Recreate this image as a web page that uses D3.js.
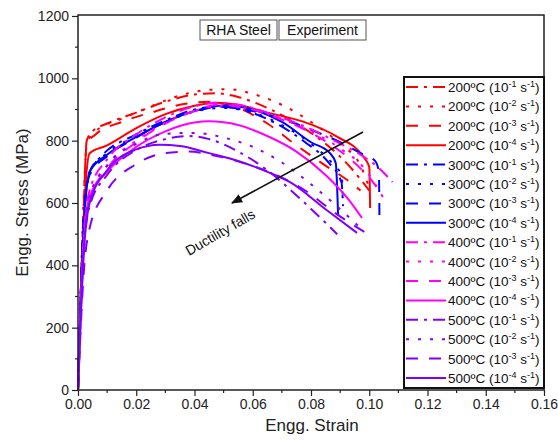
<!DOCTYPE html>
<html>
<head>
<meta charset="utf-8">
<script src="https://cdn.jsdelivr.net/npm/d3@7.9.0/dist/d3.min.js"></script>
<style>
  body { margin: 0; background: #fff; }
  svg { font-family: Arial, "Liberation Sans", sans-serif; }
</style>
</head>
<body>
<svg id="chart" width="558" height="441"></svg>
<script>
// temperatures and strain rates, one curve per pair
const temps = ["200", "300", "400", "500"];
const rates = ["1", "2", "3", "4"];
const tempColors = ["#ff0000", "#0000ff", "#ff00ff", "#8000ff"];
const rateDash = ["12,6,3,6", "3,9", "12,11", null];

const xTicks = [0, 0.02, 0.04, 0.06, 0.08, 0.10, 0.12, 0.14, 0.16];
const yTicks = [0, 200, 400, 600, 800, 1000, 1200];

// [strain, stress]
const red1 = [[0,0],[0.002,600],[0.003,800],[0.005,830],[0.01,855],[0.02,890],[0.03,925],[0.04,948],[0.047,952],[0.055,940],[0.065,905],[0.075,855],[0.085,790],[0.093,720],[0.1,640]];
const red2 = [[0,0],[0.002,620],[0.003,790],[0.006,830],[0.015,870],[0.025,910],[0.035,945],[0.045,963],[0.052,965],[0.06,950],[0.07,915],[0.08,860],[0.09,790],[0.097,720],[0.1,650]];
const red3 = [[0,0],[0.002,600],[0.003,790],[0.006,820],[0.015,860],[0.025,890],[0.035,915],[0.045,925],[0.055,905],[0.065,855],[0.075,785],[0.085,720],[0.093,670],[0.097,640]];
const red4 = [[0,0],[0.002,560],[0.004,760],[0.01,785],[0.02,840],[0.03,885],[0.04,912],[0.047,922],[0.055,915],[0.065,890],[0.0773,861],[0.0889,813],[0.0979,749],[0.1,716],[0.1003,584]];

const blue1 = [[0,0],[0.002,550],[0.004,700],[0.008,750],[0.02,820],[0.03,865],[0.04,900],[0.048,910],[0.058,895],[0.068,855],[0.078,795],[0.086,730],[0.0905,665],[0.091,590]];
const blue2 = [[0,0],[0.002,560],[0.004,700],[0.01,760],[0.02,815],[0.03,860],[0.04,893],[0.05,905],[0.06,890],[0.07,850],[0.08,790],[0.088,720],[0.0905,690],[0.091,600]];
const blue3 = [[0,0],[0.002,550],[0.004,690],[0.01,750],[0.02,810],[0.03,860],[0.04,895],[0.05,908],[0.06,895],[0.07,870],[0.08,835],[0.09,795],[0.097,760],[0.102,735],[0.1033,700],[0.1035,552]];
const blue4 = [[0,0],[0.002,520],[0.004,700],[0.01,755],[0.02,812],[0.03,860],[0.04,895],[0.05,913],[0.06,900],[0.07,860],[0.08,795],[0.0865,760],[0.0885,728],[0.0893,561]];

const mag1 = [[0,0],[0.002,500],[0.004,640],[0.01,740],[0.02,820],[0.03,875],[0.04,910],[0.048,922],[0.058,910],[0.068,880],[0.078,845],[0.088,800],[0.097,755],[0.103,715],[0.108,667]];
const mag2 = [[0,0],[0.002,480],[0.004,620],[0.01,720],[0.02,800],[0.03,858],[0.04,895],[0.05,912],[0.06,900],[0.07,870],[0.08,830],[0.09,775],[0.098,715],[0.1047,619]];
const mag3 = [[0,0],[0.002,470],[0.004,610],[0.01,710],[0.02,795],[0.03,855],[0.04,895],[0.048,915],[0.058,905],[0.068,875],[0.078,835],[0.088,780],[0.096,720],[0.101,670],[0.1045,625]];
const mag4 = [[0,0],[0.002,470],[0.004,620],[0.01,700],[0.02,780],[0.03,830],[0.04,858],[0.045,862],[0.055,850],[0.065,815],[0.075,765],[0.085,690],[0.093,610],[0.0975,552]];

const pur1 = [[0,0],[0.002,450],[0.004,590],[0.01,690],[0.02,770],[0.03,805],[0.038,815],[0.045,805],[0.055,765],[0.065,705],[0.076,616],[0.0865,523],[0.089,500]];
const pur2 = [[0,0],[0.002,470],[0.004,620],[0.01,720],[0.02,790],[0.03,822],[0.04,825],[0.05,810],[0.06,780],[0.07,730],[0.08,660],[0.09,580],[0.0975,515]];
const pur3 = [[0,0],[0.002,380],[0.004,520],[0.01,640],[0.02,725],[0.03,760],[0.038,765],[0.048,750],[0.058,725],[0.068,690],[0.078,640],[0.088,570],[0.0985,506]];
const pur4 = [[0,0],[0.002,440],[0.004,600],[0.01,705],[0.02,772],[0.028,787],[0.035,783],[0.045,760],[0.055,735],[0.065,700],[0.0728,667],[0.085,580],[0.0958,504]];

const curves = [
  [red1, red2, red3, red4],
  [blue1, blue2, blue3, blue4],
  [mag1, mag2, mag3, mag4],
  [pur1, pur2, pur3, pur4]
];

const svg = d3.select("#chart");
const mLeft = 78, mRight = 544, mTop = 15, mBottom = 390;

const x = d3.scaleLinear().domain([0, 0.16]).range([mLeft, mRight]);
const y = d3.scaleLinear().domain([0, 1200]).range([mBottom, mTop + 1]);

// axes
const xAxis = d3.axisBottom(x).tickValues(xTicks).tickFormat(d3.format(".2f")).tickSize(6).tickPadding(3);
const yAxis = d3.axisLeft(y).tickValues(yTicks).tickFormat(d3.format("d")).tickSize(6).tickPadding(3);

const xMinor = d3.range(0.01, 0.16, 0.02);
const yMinor = d3.range(100, 1200, 200);

svg.append("g").selectAll("line").data(xMinor).join("line")
  .attr("x1", d => x(d)).attr("x2", d => x(d))
  .attr("y1", mBottom).attr("y2", mBottom + 3)
  .attr("stroke", "#222").attr("stroke-width", 1.2);
svg.append("g").selectAll("line").data(yMinor).join("line")
  .attr("x1", mLeft).attr("x2", mLeft - 3)
  .attr("y1", d => y(d)).attr("y2", d => y(d))
  .attr("stroke", "#222").attr("stroke-width", 1.2);

const gx = svg.append("g").attr("transform", `translate(0,${mBottom})`).call(xAxis);
const gy = svg.append("g").attr("transform", `translate(${mLeft},0)`).call(yAxis);
[gx, gy].forEach(g => {
  g.select(".domain").remove();
  g.selectAll(".tick line").attr("stroke", "#222").attr("stroke-width", 1.2);
  g.selectAll(".tick text").attr("font-size", 14).attr("fill", "#222")
    .attr("font-family", "Arial, 'Liberation Sans', sans-serif");
});

// curves
const line = d3.line()
  .x(d => x(d[0]))
  .y(d => y(d[1]))
  .curve(d3.curveMonotoneX);

const plot = svg.append("g");
temps.forEach((t, ti) => {
  rates.forEach((r, ri) => {
    plot.append("path")
      .datum(curves[ti][ri])
      .attr("d", line)
      .attr("fill", "none")
      .attr("stroke", tempColors[ti])
      .attr("stroke-width", 2)
      .attr("stroke-dasharray", rateDash[ri]);
  });
});

// frame
svg.append("rect")
  .attr("x", mLeft).attr("y", mTop)
  .attr("width", mRight - mLeft).attr("height", mBottom - mTop)
  .attr("fill", "none").attr("stroke", "#222").attr("stroke-width", 1.5);

// axis titles
svg.append("text")
  .attr("x", 312).attr("y", 431)
  .attr("text-anchor", "middle").attr("font-size", 17).attr("fill", "#222")
  .text("Engg. Strain");
svg.append("text")
  .attr("transform", `translate(28,${(mTop + mBottom) / 2}) rotate(-90)`)
  .attr("text-anchor", "middle").attr("font-size", 17).attr("fill", "#222")
  .text("Engg. Stress (MPa)");

// label boxes
const boxes = [["RHA Steel", 200, 77], ["Experiment", 279, 87]];
boxes.forEach(([txt, bx, bw]) => {
  svg.append("rect").attr("x", bx).attr("y", 20).attr("width", bw).attr("height", 20)
    .attr("fill", "#fff").attr("stroke", "#555").attr("stroke-width", 1);
  svg.append("text").attr("x", bx + bw / 2).attr("y", 35)
    .attr("text-anchor", "middle").attr("font-size", 14).attr("fill", "#111").text(txt);
});

// arrow + annotation
svg.append("defs").append("marker")
  .attr("id", "head").attr("viewBox", "0 0 10 10")
  .attr("refX", 9).attr("refY", 5)
  .attr("markerWidth", 7).attr("markerHeight", 7)
  .attr("orient", "auto")
  .append("path").attr("d", "M0,1 L10,5 L0,9 z").attr("fill", "#111");
svg.append("line")
  .attr("x1", 363).attr("y1", 132).attr("x2", 232).attr("y2", 203)
  .attr("stroke", "#111").attr("stroke-width", 1.6)
  .attr("marker-end", "url(#head)");
svg.append("text")
  .attr("transform", "translate(189,256) rotate(-30)")
  .attr("font-size", 14).attr("fill", "#111")
  .text("Ductility falls");

// legend
const legX = 404, legY = 77, legW = 140, legH = 311, rowH = 19.4;
const leg = svg.append("g");
leg.append("rect").attr("x", legX).attr("y", legY).attr("width", legW).attr("height", legH)
  .attr("fill", "#fff").attr("stroke", "#111").attr("stroke-width", 2);

let row = 0;
temps.forEach((t, ti) => {
  rates.forEach((r, ri) => {
    const ry = legY + 10 + row * rowH;
    leg.append("line")
      .attr("x1", legX + 2).attr("x2", legX + 42)
      .attr("y1", ry).attr("y2", ry)
      .attr("stroke", tempColors[ti]).attr("stroke-width", 2)
      .attr("stroke-dasharray", rateDash[ri]);
    const tx = leg.append("text").attr("x", legX + 44).attr("y", ry + 5)
      .attr("font-size", 13.5).attr("fill", "#111");
    tx.append("tspan").text(`${t}\u00baC (10`);
    tx.append("tspan").attr("dy", -5).attr("font-size", 9).text(`-${r}`);
    tx.append("tspan").attr("dy", 5).text(" s");
    tx.append("tspan").attr("dy", -5).attr("font-size", 9).text("-1");
    tx.append("tspan").attr("dy", 5).text(")");
    row++;
  });
});
</script>
</body>
</html>
